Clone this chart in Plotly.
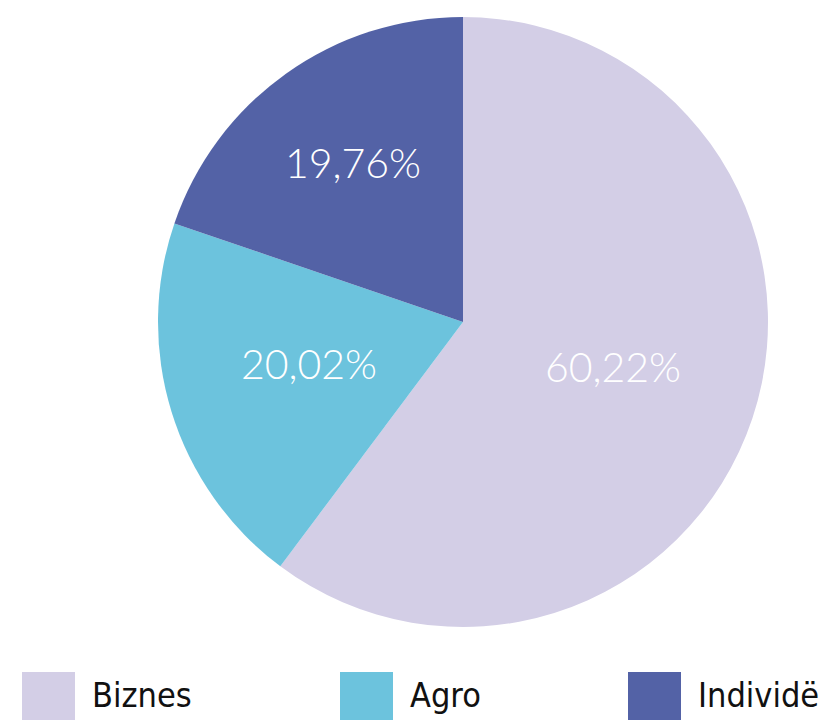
import math
import plotly.graph_objects as go

labels = ["Biznes", "Agro", "Individë"]
values = [60.22, 20.02, 19.76]
text_labels = ["60,22%", "20,02%", "19,76%"]
colors = ["#D3CEE6", "#6CC3DD", "#5362A6"]
label_radius = [0.52, 0.53, 0.62]  # fraction of pie radius where each label sits

W, H = 829, 720
OFF = 8  # page body margin
cx, cy, R = 463 - OFF, 322 - OFF, 305

fig = go.Figure(go.Pie(
    labels=labels, values=values, textinfo="none",
    marker=dict(colors=colors, line=dict(width=0)),
    sort=False, direction="clockwise", rotation=0,
    showlegend=False, hoverinfo="label+percent",
    domain=dict(x=[(cx - R) / W, (cx + R) / W], y=[1 - (cy + R) / H, 1 - (cy - R) / H]),
))

annots, shapes = [], []
total = sum(values)
cum = 0.0
for v, t, rf in zip(values, text_labels, label_radius):
    mid = (cum + v / 2) / total * 2 * math.pi
    cum += v
    px = cx + rf * R * math.sin(mid)
    py = cy - rf * R * math.cos(mid) - 6
    annots.append(dict(text=t, xref="paper", yref="paper", x=px / W, y=1 - py / H,
                       xanchor="center", yanchor="middle", showarrow=False,
                       font=dict(family="Lato", size=41, color="white", weight=300)))

legend_x = [22, 340, 628]
for lab, col, x0 in zip(labels, colors, legend_x):
    x0 -= OFF
    shapes.append(dict(type="rect", xref="paper", yref="paper",
                       x0=x0 / W, x1=(x0 + 53) / W, y0=1 - (722 - OFF) / H, y1=1 - (672 - OFF) / H,
                       fillcolor=col, line=dict(width=0)))
    annots.append(dict(text=lab, xref="paper", yref="paper", x=(x0 + 68) / W, y=1 - (695 - OFF) / H,
                       xanchor="left", yanchor="middle", showarrow=False,
                       font=dict(family="DejaVu Sans Condensed, DejaVu Sans", size=34,
                                 color="#111111")))

fig.update_layout(width=W, height=H, margin=dict(l=0, r=0, t=0, b=0),
                  paper_bgcolor="white", plot_bgcolor="white",
                  shapes=shapes, annotations=annots)
fig.write_html("out.html")
